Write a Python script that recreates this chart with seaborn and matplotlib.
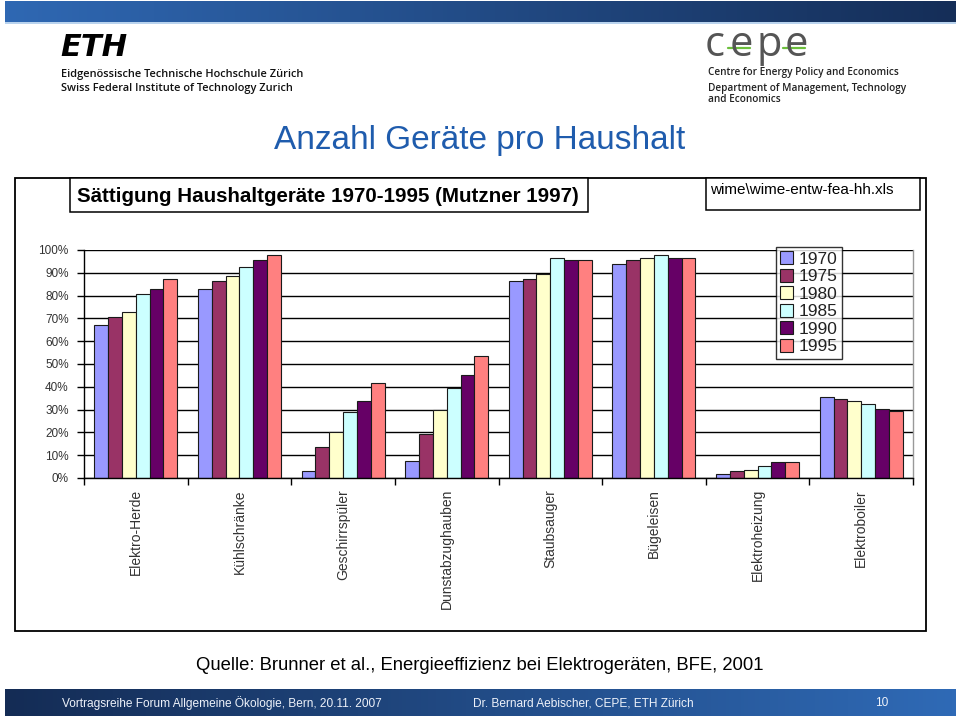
import numpy as np
import pandas as pd
import matplotlib
matplotlib.use("Agg")
import matplotlib.pyplot as plt
import seaborn as sns
from matplotlib.patches import Rectangle
from matplotlib import font_manager as fm
from matplotlib.ticker import FixedLocator

# ---------------- data ----------------
categories = ["Elektro-Herde", "Kühlschränke", "Geschirrspüler", "Dunstabzughauben",
              "Staubsauger", "Bügeleisen", "Elektroheizung", "Elektroboiler"]
years = ["1970", "1975", "1980", "1985", "1990", "1995"]
v1970 = [67.0, 82.7, 3.0, 7.5, 86.3, 93.7, 1.6, 35.4]
v1975 = [70.5, 86.2, 13.4, 19.5, 87.5, 95.6, 3.0, 34.5]
v1980 = [73.0, 88.5, 20.0, 30.0, 89.6, 96.3, 3.7, 33.6]
v1985 = [80.5, 92.7, 29.0, 39.6, 96.3, 97.7, 5.3, 32.6]
v1990 = [83.0, 95.6, 33.8, 45.2, 95.6, 96.3, 7.0, 30.3]
v1995 = [87.4, 97.7, 41.6, 53.3, 95.5, 96.3, 7.0, 29.4]
series = [v1970, v1975, v1980, v1985, v1990, v1995]
yticks = [0, 10, 20, 30, 40, 50, 60, 70, 80, 90, 100]
ytick_labels = [f"{t}%" for t in yticks]
colors = ["#9999FF", "#993366", "#FFFFCC", "#CCFFFF", "#660066", "#FF8080"]

rows = []
for y, vals in zip(years, series):
    for c, v in zip(categories, vals):
        rows.append({"Gerät": c, "Jahr": y, "Anteil": v})
df = pd.DataFrame(rows)

# ---------------- fonts ----------------
names = {f.name for f in fm.fontManager.ttflist}
SANS = "Liberation Sans"
NARROW = "Liberation Sans Narrow" if "Liberation Sans Narrow" in names else None
LOGO = "Open Sans" if "Open Sans" in names else "DejaVu Sans"

sns.set_theme(style="white")
plt.rcParams["font.family"] = [SANS, "DejaVu Sans"]

W, H = 960, 716
fig = plt.figure(figsize=(W / 100, H / 100), dpi=100)
fig.patch.set_facecolor("white")


def fx(x):
    return x / W


def fy(y):
    return 1 - y / H


# ---------------- banners ----------------
def gradient_band(x0, y0, x1, y1, c_left, c_right):
    ax_b = fig.add_axes([fx(x0), fy(y1), fx(x1 - x0), (y1 - y0) / H])
    cl = np.array(matplotlib.colors.to_rgb(c_left))
    cr = np.array(matplotlib.colors.to_rgb(c_right))
    t = np.linspace(0, 1, 256)[None, :, None]
    img = cl[None, None, :] * (1 - t) + cr[None, None, :] * t
    ax_b.imshow(img, aspect="auto", extent=[0, 1, 0, 1])
    ax_b.set_axis_off()
    return ax_b

gradient_band(5, 1, 956, 22, "#2f68b3", "#152e58")
fig.add_artist(Rectangle((fx(5), fy(24)), fx(951), 2 / H, transform=fig.transFigure,
                         facecolor="#b9d3ee", edgecolor="none"))
gradient_band(5, 689, 956, 716, "#142c55", "#2f6ab6")

# ---------------- logos ----------------
fig.text(fx(60), fy(47), "ETH", fontsize=22, fontweight="bold", fontstyle="italic",
         family=["DejaVu Sans"], va="center", ha="left", color="black")
fig.text(fx(61), fy(74), "Eidgenössische Technische Hochschule Zürich", fontsize=7.9,
         fontweight="semibold", family=[LOGO, "DejaVu Sans"], va="center", ha="left", color="#111")
fig.text(fx(61), fy(89), "Swiss Federal Institute of Technology Zurich", fontsize=7.9,
         fontweight="semibold", family=[LOGO, "DejaVu Sans"], va="center", ha="left", color="#111")

for ch, xs in zip("cepe", (705, 730, 756, 785)):
    fig.text(fx(xs), fy(45), ch, fontsize=30, fontweight="normal",
             family=[LOGO, "DejaVu Sans"], va="center", ha="left", color="#555")
for xs in (728, 783):
    fig.add_artist(plt.Line2D([fx(xs), fx(xs + 22)], [fy(48), fy(48)],
                              transform=fig.transFigure, color="#6cbf3c", lw=1.6))
fig.text(fx(708), fy(72), "Centre for Energy Policy and Economics", fontsize=7.2,
         fontweight="semibold", family=[LOGO, "DejaVu Sans"], va="center", ha="left", color="#222")
fig.text(fx(708), fy(88), "Department of Management, Technology", fontsize=7.2,
         fontweight="semibold", family=[LOGO, "DejaVu Sans"], va="center", ha="left", color="#222")
fig.text(fx(708), fy(100), "and Economics", fontsize=7.2,
         fontweight="semibold", family=[LOGO, "DejaVu Sans"], va="center", ha="left", color="#222")

# ---------------- slide title ----------------
fig.text(0.5, fy(140), "Anzahl Geräte pro Haushalt", fontsize=24, color="#1f5cad",
         ha="center", va="center")

# ---------------- chart frame ----------------
fig.add_artist(Rectangle((fx(15), fy(631)), fx(911), (631 - 178) / H, transform=fig.transFigure,
                         facecolor="none", edgecolor="black", lw=1.3))
fig.add_artist(Rectangle((fx(70), fy(212)), fx(518), 34 / H, transform=fig.transFigure,
                         facecolor="white", edgecolor="black", lw=1.1))
hdr = "Sättigung Haushaltgeräte 1970-1995 (Mutzner 1997)"
if NARROW:
    fig.text(fx(78), fy(196), hdr, fontsize=15, fontweight="bold", family=[NARROW, SANS],
             ha="left", va="center", color="black")
else:
    fig.text(fx(77), fy(196), hdr, fontsize=14.8, fontweight="bold",
             ha="left", va="center", color="black")
fig.add_artist(Rectangle((fx(706), fy(210)), fx(214), 32 / H, transform=fig.transFigure,
                         facecolor="white", edgecolor="black", lw=1.1))
if NARROW:
    fig.text(fx(710), fy(190), "wime\\wime-entw-fea-hh.xls", fontsize=11.5, family=[NARROW, SANS],
             ha="left", va="center", color="black")
else:
    fig.text(fx(710), fy(190), "wime\\wime-entw-fea-hh.xls", fontsize=11.0,
             ha="left", va="center", color="black")

# ---------------- bar chart ----------------
ax = fig.add_axes([fx(84), fy(478), fx(913 - 84), (478 - 250) / H])
sns.barplot(data=df, x="Gerät", y="Anteil", hue="Jahr", order=categories, hue_order=years,
            palette=colors, edgecolor="#1a1a1a", linewidth=0.8, width=0.8, ax=ax,
            saturation=1, legend=True)
ax.set_xlim(-0.5, len(categories) - 0.5)
ax.set_ylim(0, 100)
ax.set_yticks(yticks)
ax.set_yticklabels(ytick_labels, fontsize=8.5, color="#333")
ax.set_xlabel("")
ax.set_ylabel("")
ax.set_axisbelow(True)
ax.yaxis.grid(True, color="black", lw=1.0)
ax.xaxis.grid(False)
ax.set_xticks(range(len(categories)))
ax.set_xticklabels(categories, rotation=90, fontsize=10, color="#333", va="top")
ax.tick_params(axis="x", which="major", length=0, pad=8)
ax.xaxis.set_minor_locator(FixedLocator(np.arange(-0.5, len(categories), 1.0)))
ax.tick_params(axis="x", which="minor", length=5, width=1, color="black", direction="out", bottom=True)
ax.tick_params(axis="y", length=5, width=1, color="black", direction="out", left=True, pad=6)
for s in ("left", "bottom"):
    ax.spines[s].set_color("black")
    ax.spines[s].set_linewidth(1.0)
ax.spines["top"].set_visible(False)
ax.spines["right"].set_color("#999999")
ax.spines["right"].set_linewidth(1.0)
ax.set_facecolor("white")

handles, labels = ax.get_legend_handles_labels()
ax.get_legend().remove()
leg = fig.legend(handles, labels, loc="upper left", bbox_to_anchor=(fx(776), fy(247)),
                 fontsize=12.5, frameon=True, fancybox=False, handlelength=0.75, handleheight=0.75,
                 handletextpad=0.3, labelspacing=0.12, borderpad=0.25, borderaxespad=0)
leg.get_frame().set_edgecolor("black")
leg.get_frame().set_linewidth(1.0)
for t in leg.get_texts():
    t.set_color("#222")

# ---------------- source & footer ----------------
fig.text(0.5, fy(666), "Quelle: Brunner et al., Energieeffizienz bei Elektrogeräten, BFE, 2001",
         fontsize=13.3, ha="center", va="center", color="black")
fig.text(fx(62), fy(703), "Vortragsreihe Forum Allgemeine Ökologie, Bern, 20.11. 2007",
         fontsize=8.6, ha="left", va="center", color="#eef2fa")
fig.text(fx(473), fy(703), "Dr. Bernard Aebischer, CEPE, ETH Zürich",
         fontsize=8.6, ha="left", va="center", color="#eef2fa")
fig.text(fx(875), fy(703), "10", fontsize=8.6, ha="left", va="center", color="#eef2fa")

fig.savefig("out.png", dpi=100)
